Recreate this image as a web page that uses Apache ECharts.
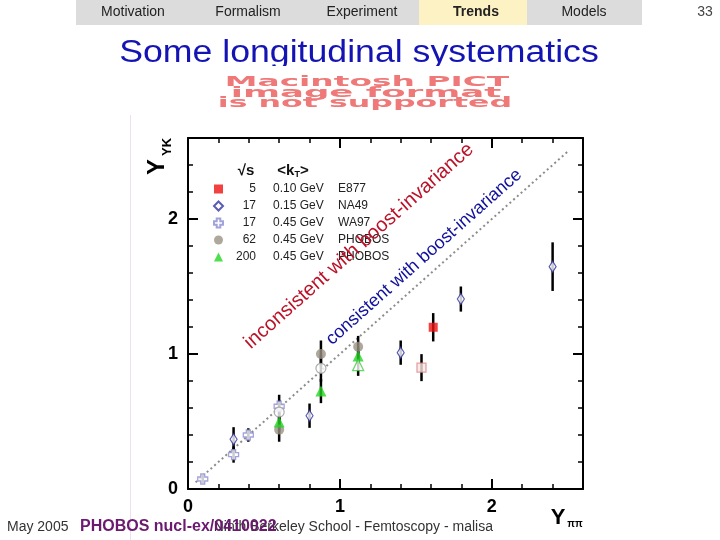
<!DOCTYPE html>
<html>
<head>
<meta charset="utf-8">
<script src="https://cdn.jsdelivr.net/npm/echarts@6/dist/echarts.min.js"></script>
<style>html,body{margin:0;padding:0;background:#fff}#c{width:720px;height:540px}</style>
</head>
<body>
<div id="c"></div>
<script>
// ---- data: [x (Y_pipi), y (Y_YK), error] ----
const e877 = [[1.614, 1.198, 0.105]];
const e877Open = [[1.537, 0.899, 0.10]];
const na49 = [[0.30, 0.368, 0.09], [0.80, 0.543, 0.09], [1.40, 1.01, 0.09], [1.796, 1.407, 0.093], [2.40, 1.647, 0.18]];
const wa97 = [[0.097, 0.074, 0.03], [0.30, 0.255, 0.06], [0.397, 0.40, 0.05], [0.60, 0.613, 0.085]];
const phobos62 = [[0.60, 0.44, 0.09], [0.875, 1.0, 0.10], [1.12, 1.054, 0.08]];
const phobos62Open = [[0.60, 0.57, 0.09], [0.875, 0.894, 0.10]];
const phobos200 = [[0.60, 0.497, 0.07], [0.875, 0.726, 0.09], [1.12, 0.985, 0.06]];
const phobos200Open = [[1.12, 0.918, 0.08]];
const diagonal = [[0.05, 0.05], [2.5, 2.5]];

const legendNames = ['E877', 'NA49', 'WA97', 'PHOBOS 62', 'PHOBOS 200'];
const legendSqrtS = ['5', '17', '17', '62', '200'];
const legendKt = ['0.10 GeV', '0.15 GeV', '0.45 GeV', '0.45 GeV', '0.45 GeV'];
const legendExp = ['E877', 'NA49', 'WA97', 'PHOBOS', 'PHOBOS'];

const axisMin = 0, axisMax = 2.6;
const tabs = ['Motivation', 'Formalism', 'Experiment', 'Trends', 'Models'];
const tabCenters = [133, 248, 362, 476, 584];

const FONT = '"Liberation Sans", Arial, sans-serif';

function mkAxis(pos, interval, tickLen, main) {
  const isX = pos === 'bottom' || pos === 'top';
  return {
    type: 'value', position: pos, min: axisMin, max: axisMax, interval: interval,
    splitLine: { show: false },
    axisLine: { show: main, onZero: false, lineStyle: { color: '#000', width: 2 } },
    axisTick: { show: true, inside: true, length: tickLen, lineStyle: { color: '#000', width: tickLen > 6 ? 2 : 1.5 } },
    axisLabel: {
      show: main && (pos === 'bottom' || pos === 'left'),
      showMaxLabel: false,
      margin: isX ? 9 : 10,
      fontFamily: FONT, fontWeight: 'bold', fontSize: 18, color: '#000',
      formatter: v => (Math.abs(v - Math.round(v)) < 1e-6 ? String(Math.round(v)) : '')
    }
  };
}

function errData(arr) { return arr.map(d => [d[0], d[1] - d[2], d[1] + d[2]]); }
const allErr = [].concat(errData(wa97), errData(na49), errData(phobos62), errData(phobos62Open),
  errData(phobos200), errData(phobos200Open), errData(e877), errData(e877Open));

const crossPath = 'path://M3,0H7V3H10V7H7V10H3V7H0V3H3Z';

function sc(name, data, symbol, size, style, z) {
  return { type: 'scatter', name: name, data: data.map(d => [d[0], d[1]]), symbol: symbol, symbolSize: size,
    itemStyle: style, z: z || 3, emphasis: { disabled: true } };
}

// text measurement for legend column alignment
const mctx = document.createElement('canvas').getContext('2d');
mctx.font = '12px "Liberation Sans"';
const tw = s => mctx.measureText(s).width;

const rich = {
  s: { fontSize: 12, lineHeight: 12, fontFamily: FONT, color: '#222' },
  k: { fontSize: 12, lineHeight: 12, fontFamily: FONT, color: '#222' },
  e: { fontSize: 12, lineHeight: 12, fontFamily: FONT, color: '#222' }
};
legendNames.forEach((n, i) => {
  rich['s' + i] = Object.assign({}, rich.s, { padding: [0, 0, 0, Math.max(0, 28 - tw(legendSqrtS[i]))] });
  rich['k' + i] = Object.assign({}, rich.k, { padding: [0, 0, 0, 17] });
  rich['e' + i] = Object.assign({}, rich.e, { padding: [0, 0, 0, Math.max(0, 65 - tw(legendKt[i]))] });
});

const chart = echarts.init(document.getElementById('c'), null, { renderer: 'canvas' });
const option = {
  animation: false,
  backgroundColor: '#fff',
  grid: { left: 188, top: 138, width: 395, height: 351 },
  xAxis: [mkAxis('bottom', 1, 10, true), mkAxis('bottom', 0.2, 5, false), mkAxis('top', 1, 10, true), mkAxis('top', 0.2, 5, false)],
  yAxis: [mkAxis('left', 1, 10, true), mkAxis('left', 0.2, 5, false), mkAxis('right', 1, 10, true), mkAxis('right', 0.2, 5, false)],
  legend: {
    data: legendNames, orient: 'vertical', left: 213, top: 183, padding: 0,
    itemWidth: 9, itemHeight: 9, itemGap: 5, selectedMode: false,
    textStyle: { rich: rich, fontSize: 12 },
    formatter: name => {
      const i = legendNames.indexOf(name);
      return '{s' + i + '|' + legendSqrtS[i] + '}{k' + i + '|' + legendKt[i] + '}{e' + i + '|' + legendExp[i] + '}';
    }
  },
  series: [
    { type: 'line', data: diagonal, symbol: 'none', silent: true, z: 1,
      lineStyle: { color: '#8c8c8c', width: 2, type: [2, 3] } },
    { type: 'custom', data: allErr, z: 2, silent: true,
      encode: { x: 0, y: [1, 2] },
      renderItem: (params, api) => {
        const x = api.value(0);
        const p1 = api.coord([x, api.value(1)]);
        const p2 = api.coord([x, api.value(2)]);
        return { type: 'line', shape: { x1: p1[0], y1: p1[1], x2: p2[0], y2: p2[1] },
          style: { stroke: '#000', lineWidth: 2.5 } };
      } },
    sc('WA97', wa97, crossPath, 10, { color: '#fff', borderColor: '#8c8cd2', borderWidth: 1.3 }, 3),
    sc('NA49', na49, 'diamond', [7, 11], { color: '#fff', borderColor: '#3232a0', borderWidth: 1.2 }, 3),
    sc('PHOBOS 62', phobos62, 'circle', 10, { color: '#9a9183' }, 4),
    sc('PHOBOS 62 open', phobos62Open, 'circle', 10, { color: '#fff', borderColor: '#9a9a9a', borderWidth: 1.2 }, 4),
    sc('PHOBOS 200', phobos200, 'triangle', 11, { color: '#22d622' }, 5),
    sc('PHOBOS 200 open', phobos200Open, 'triangle', 11, { color: '#fff', borderColor: '#44cc44', borderWidth: 1.3 }, 5),
    sc('E877', e877, 'rect', 9, { color: '#ee1111' }, 5),
    sc('E877 open', e877Open, 'rect', 9, { color: '#fbe6e6', borderColor: '#d98c8c', borderWidth: 1.3 }, 5)
  ],
  graphic: [
    // header bar
    { type: 'rect', shape: { x: 76, y: 0, width: 566, height: 25 }, style: { fill: '#dcdcdc' }, z: 0 },
    { type: 'rect', shape: { x: 419, y: 0, width: 108, height: 25 }, style: { fill: '#fdf2c4' }, z: 0 },
    ...tabs.map((t, i) => ({ type: 'text', x: tabCenters[i], y: 12.5, z: 1,
      style: { text: t, fill: '#222', font: (t === 'Trends' ? 'bold ' : '') + '14px ' + FONT, textAlign: 'center', textVerticalAlign: 'middle' } })),
    { type: 'text', x: 705, y: 12.5, style: { text: '33', fill: '#444', font: '14px ' + FONT, textAlign: 'center', textVerticalAlign: 'middle' } },
    // title
    { type: 'text', x: 359, y: 53, scaleX: 1.15, z: 1,
      style: { text: 'Some longitudinal systematics', fill: '#1414b4', font: '31px ' + FONT, textAlign: 'center', textVerticalAlign: 'middle' } },
    { type: 'rect', shape: { x: 110, y: 66, width: 500, height: 8 }, style: { fill: '#fff' }, z: 2 },
    // missing picture placeholder text
    { type: 'text', x: 367, y: 82, scaleX: 2.19, scaleY: 0.9, style: { text: 'Macintosh PICT', fill: '#ef7878', font: 'bold 15px "DejaVu Sans", sans-serif', textAlign: 'center', textVerticalAlign: 'middle' } },
    { type: 'text', x: 366, y: 93, scaleX: 2.37, scaleY: 0.9, style: { text: 'image format', fill: '#ef7878', font: 'bold 15px "DejaVu Sans", sans-serif', textAlign: 'center', textVerticalAlign: 'middle' } },
    { type: 'text', x: 365, y: 103.5, scaleX: 2.11, scaleY: 0.9, style: { text: 'is not supported', fill: '#ef7878', font: 'bold 15px "DejaVu Sans", sans-serif', textAlign: 'center', textVerticalAlign: 'middle' } },
    // faint image border
    { type: 'line', shape: { x1: 130.5, y1: 115, x2: 130.5, y2: 540 }, style: { stroke: '#ebe3eb', lineWidth: 1 } },
    // legend header
    { type: 'text', x: 246, y: 171, style: { text: '√s', fill: '#111', font: 'bold 15px ' + FONT, textAlign: 'center', textVerticalAlign: 'middle' } },
    { type: 'text', x: 293, y: 171, style: { text: '<k{t|T}>', fill: '#111', font: 'bold 15px ' + FONT, textAlign: 'center', textVerticalAlign: 'middle',
      rich: { t: { font: 'bold 9px ' + FONT, fill: '#111', padding: [8, 0, 0, 0] } } } },
    // axis titles
    { type: 'text', x: 157, y: 167, rotation: Math.PI / 2, style: { text: 'Y', fill: '#000', font: 'bold 24px ' + FONT, textAlign: 'center', textVerticalAlign: 'middle' } },
    { type: 'text', x: 167, y: 147, rotation: Math.PI / 2, style: { text: 'YK', fill: '#000', font: 'bold 13px ' + FONT, textAlign: 'center', textVerticalAlign: 'middle' } },
    { type: 'text', x: 558, y: 518, style: { text: 'Y', fill: '#000', font: 'bold 22px ' + FONT, textAlign: 'center', textVerticalAlign: 'middle' } },
    { type: 'text', x: 575, y: 524, style: { text: 'ππ', fill: '#000', font: 'bold 10px ' + FONT, textAlign: 'center', textVerticalAlign: 'middle' } },
    // annotations
    { type: 'text', x: 359, y: 246, rotation: 0.726, z: 100,
      style: { text: 'inconsistent with boost-invariance', fill: '#bb1228', font: '20px ' + FONT, textAlign: 'center', textVerticalAlign: 'middle' } },
    { type: 'text', x: 424, y: 257, rotation: 0.726, z: 100,
      style: { text: 'consistent with boost-invariance', fill: '#10109c', font: '18px ' + FONT, textAlign: 'center', textVerticalAlign: 'middle' } },
    // footer
    { type: 'text', x: 7, y: 527, style: { text: 'May 2005', fill: '#333', font: '14px ' + FONT, textAlign: 'left', textVerticalAlign: 'middle' } },
    { type: 'text', x: 493, y: 527, style: { text: 'Ninth Berkeley School - Femtoscopy - malisa', fill: '#333', font: '14px ' + FONT, textAlign: 'right', textVerticalAlign: 'middle' } },
    { type: 'text', x: 80, y: 527, z: 5, style: { text: 'PHOBOS nucl-ex/0410022', fill: '#6b1a70', font: 'bold 16px ' + FONT, textAlign: 'left', textVerticalAlign: 'middle' } }
  ]
};
chart.setOption(option);
</script>
</body>
</html>
